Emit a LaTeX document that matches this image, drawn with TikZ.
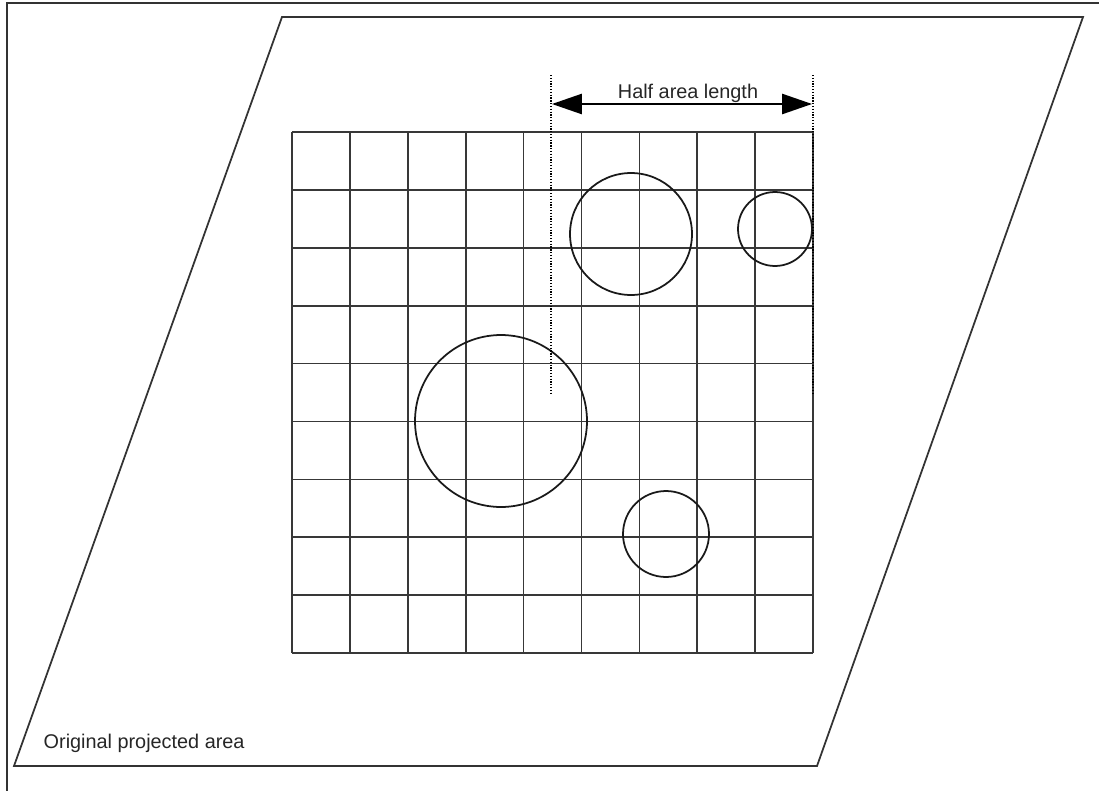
\documentclass[tikz,border=0pt]{standalone}
\usepackage{fontspec}
\setmainfont{Liberation Sans}
\usetikzlibrary{arrows.meta}
\begin{document}
\begin{tikzpicture}[x=0.02cm,y=-0.02cm,line width=0.8pt,
  gridline/.style={draw=black!78,line width=1pt},
  outline/.style={draw=black!80,line width=1pt},
  hole/.style={draw=black!90,line width=1pt},
  guide/.style={draw=black,line width=0.85pt,dash pattern=on 0.7pt off 0.9pt},
  dimarrow/.style={draw=black,line width=0.95pt,{Triangle[length=17pt,width=11.5pt]}-{Triangle[length=17pt,width=11.5pt]}},
  lbl/.style={font=\fontsize{11.3}{13}\selectfont,text=black!85,inner sep=0pt}]
\useasboundingbox (0,0) rectangle (1099,791);
% frame
\draw[outline] (7,791) -- (7,3) -- (1099,3);
% original projected area
\coordinate (pTL) at (282,17);
\coordinate (pTR) at (1083,17);
\coordinate (pBR) at (817,766);
\coordinate (pBL) at (14,766);
\draw[outline] (pTL) -- (pTR) -- (pBR) -- (pBL) -- cycle;
% grid
\foreach \i in {0,...,9} {
  \draw[gridline] ({292+57.9*\i},132) -- ++(0,521);
  \draw[gridline] (292,{132+57.9*\i}) -- ++(521,0);
}
% holes
\draw[hole] (631,234) circle[radius=1.22cm];
\draw[hole] (775,229) circle[radius=0.74cm];
\draw[hole] (501,421) circle[radius=1.72cm];
\draw[hole] (666,534) circle[radius=0.86cm];
% dimension
\coordinate (gLt) at (551,75);
\coordinate (gLb) at (551,393);
\coordinate (gRt) at (813,75);
\coordinate (gRb) at (813,393);
\draw[guide] (gLt) -- (gLb);
\draw[guide] (gRt) -- (gRb);
\coordinate (aL) at (552,104);
\coordinate (aR) at (812,104);
\draw[dimarrow] (aL) -- (aR);
\node[lbl,anchor=base] (half) at (688,98.5) {Half area length};
\node[lbl,anchor=base west] (orig) at (43,748) {Original projected area};
\end{tikzpicture}
\end{document}
